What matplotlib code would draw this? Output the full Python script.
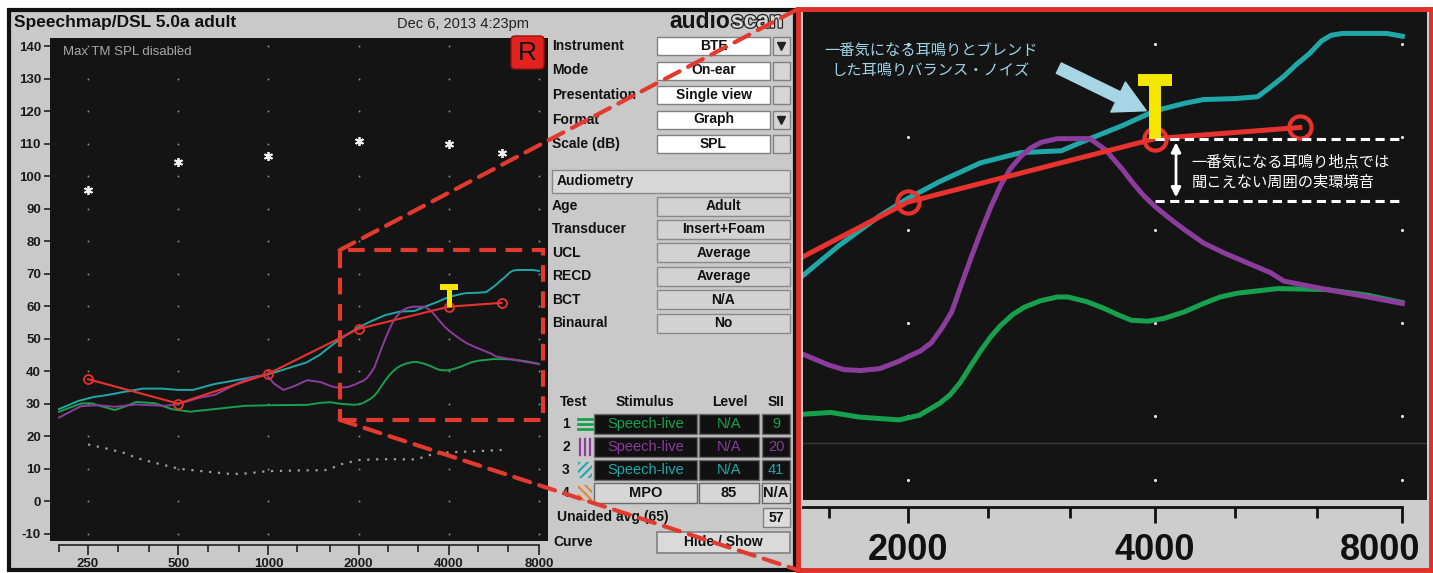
import numpy as np
import matplotlib
matplotlib.use("Agg")
import matplotlib.pyplot as plt
from matplotlib.patches import Rectangle, FancyBboxPatch, ConnectionPatch
from matplotlib.ticker import FixedLocator, FixedFormatter, NullFormatter
import matplotlib.patheffects as pe

plt.rcParams['font.family'] = ['Liberation Sans', 'DejaVu Sans']
plt.rcParams['hatch.linewidth'] = 1.5
JP = ['Noto Sans CJK JP', 'DejaVu Sans']

# ---------------- data ----------------
octave_freqs = [250, 500, 1000, 2000, 4000, 8000]
third_octave_freqs = [200, 250, 315, 400, 500, 630, 800, 1000, 1250, 1600,
                      2000, 2500, 3150, 4000, 5000, 6300, 8000]
zoom_label_freqs = [2000, 4000, 8000]
zoom_tick_freqs = [1600, 2000, 2500, 3150, 4000, 5000, 6300, 8000]
level_ticks = [-10, 0, 10, 20, 30, 40, 50, 60, 70, 80, 90, 100, 110, 120, 130, 140]
zoom_grid_levels = [30, 40, 50, 60, 70]
zoom_lower_grid_level = 23.2

green_freqs = [200, 237, 256, 281, 307, 330, 362, 418, 475, 547, 663, 833, 1042, 1350,
               1484, 1610, 1745, 1950, 2064, 2186, 2250, 2314, 2380, 2450, 2520, 2590,
               2680, 2770, 2900, 3040, 3130, 3300, 3460, 3600, 3740, 3920, 4100, 4340,
               4580, 4800, 5030, 5640, 6450, 7250, 8000]
green_levels = [27.5, 30.0, 30.1, 29.0, 28.0, 29.0, 30.5, 30.1, 28.3, 27.5, 28.3, 29.3,
                29.5, 29.6, 30.2, 30.4, 29.9, 29.6, 30.1, 31.4, 32.3, 33.6, 35.3, 37.0,
                38.5, 39.7, 40.9, 41.7, 42.4, 42.8, 42.8, 42.3, 41.6, 40.9, 40.3, 40.2,
                40.5, 41.2, 42.1, 42.8, 43.2, 43.7, 43.6, 43.0, 42.2]

purple_freqs = [200, 237, 269, 307, 360, 452, 500, 583, 663, 751, 834, 900, 988, 1042,
                1122, 1206, 1350, 1494, 1600, 1670, 1750, 1846, 1950, 2000, 2070, 2135,
                2200, 2260, 2330, 2390, 2450, 2520, 2590, 2660, 2744, 2820, 2904, 3040,
                3330, 3480, 3648, 3760, 3880, 4000, 4170, 4346, 4580, 4860, 5200, 5530,
                5740, 6300, 7260, 8000]
purple_levels = [25.7, 29.2, 29.5, 29.0, 29.7, 29.3, 29.8, 31.7, 32.7, 35.2, 37.3, 38.2,
                 38.8, 36.2, 34.2, 35.2, 37.2, 36.6, 35.5, 35.0, 34.9, 35.1, 35.9, 36.4,
                 37.0, 37.9, 39.5, 41.2, 44.5, 47.2, 49.7, 52.4, 54.7, 56.5, 57.9, 58.8,
                 59.4, 59.8, 59.8, 58.6, 56.5, 55.0, 53.6, 52.5, 51.2, 50.0, 48.6, 47.5,
                 46.4, 45.4, 44.5, 43.8, 42.8, 42.1]

cyan_freqs = [200, 232, 260, 289, 330, 381, 440, 500, 560, 660, 760, 867, 1000, 1138,
              1344, 1484, 1646, 1846, 2000, 2186, 2450, 2744, 3073, 3330, 3648, 3908,
              4000, 4346, 4580, 5000, 5330, 5500, 5740, 5950, 6160, 6380, 6550, 6760,
              7660, 8000]
cyan_levels = [28.3, 30.8, 32.0, 32.6, 33.6, 34.6, 34.6, 34.2, 34.2, 36.0, 37.0, 38.0,
               39.0, 40.6, 42.7, 45.0, 48.3, 51.5, 53.4, 55.2, 57.2, 58.3, 58.5, 59.8,
               61.2, 62.4, 62.8, 63.6, 64.0, 64.1, 64.3, 65.2, 66.5, 67.8, 68.9, 70.3,
               70.9, 71.1, 71.1, 70.8]

target_freqs = [250, 500, 1000, 2000, 4000, 6000]
target_levels = [37.5, 30.0, 39.2, 53.0, 59.8, 61.0]

mpo_freqs = [250, 500, 1000, 2000, 4000, 6000]
mpo_levels = [95.7, 104.2, 106.2, 110.8, 109.8, 107.0]

thresh_freqs = [250, 284, 330, 367, 429, 500, 583, 752, 852, 996, 1250, 1546, 1680,
                1760, 2000, 2390, 3101, 3529, 4000, 4585, 6000]
thresh_levels = [17.4, 16.3, 14.8, 13.1, 11.5, 10.0, 9.3, 8.3, 8.5, 9.2, 9.4, 9.5, 10.6,
                 11.4, 12.6, 12.9, 12.8, 14.4, 15.0, 15.2, 15.7]

tinnitus_freq = 4000
tinnitus_bottom = 59.8
tinnitus_top = 66.8
ambient_level = 53.1
zoom_box_freqs = [1728, 8250]
zoom_box_levels = [25.0, 77.2]

setup_labels = ["Instrument", "Mode", "Presentation", "Format", "Scale (dB)"]
setup_values = ["BTE", "On-ear", "Single view", "Graph", "SPL"]
setup_dropdown = [True, False, False, True, False]
aud_labels = ["Age", "Transducer", "UCL", "RECD", "BCT", "Binaural"]
aud_values = ["Adult", "Insert+Foam", "Average", "Average", "N/A", "No"]
test_ids = ["1", "2", "3", "4"]
test_stimulus = ["Speech-live", "Speech-live", "Speech-live", "MPO"]
test_level = ["N/A", "N/A", "N/A", "85"]
test_sii = ["9", "20", "41", "N/A"]

GREEN, PURPLE, CYAN, RED = '#17a04e', '#8c3c9c', '#20a8a8', '#e8322e'
YELLOW, ORANGE = '#f5e600', '#e0883a'
PANEL, BLACK = '#c9c9c9', '#141414'
test_colors = [GREEN, PURPLE, CYAN, None]

# ---------------- figure ----------------
W, H = 1433, 573
fig = plt.figure(figsize=(W / 100, H / 100), dpi=100)
fig.patch.set_facecolor('white')


def frac(x0, y0, x1, y1):
    return [x0 / W, 1 - y1 / H, (x1 - x0) / W, (y1 - y0) / H]


bg = fig.add_axes([0, 0, 1, 1], zorder=0)
bg.set_xlim(0, W); bg.set_ylim(H, 0); bg.axis('off')

# left instrument panel
bg.add_patch(Rectangle((9.5, 9.5), 786, 560, fc=PANEL, ec='#111111', lw=3))
bg.text(14, 22, "Speechmap/DSL 5.0a adult", ha='left', va='center', fontsize=12.5,
        fontweight='bold', color='#111')
bg.text(397, 24, "Dec 6, 2013 4:23pm", ha='left', va='center', fontsize=10.5, color='#222')
bg.text(730, 21, "audio", ha='right', va='center', fontsize=16.5, fontweight='bold', color='#151515')
bg.text(731, 21, "scan", ha='left', va='center', fontsize=16.5, fontweight='bold', color='#d8d8d8',
        path_effects=[pe.withStroke(linewidth=1.8, foreground='#222')])

# setup rows
for i, (lab, val, dd) in enumerate(zip(setup_labels, setup_values, setup_dropdown)):
    yc = 46 + i * 24.5
    bg.text(552, yc, lab, ha='left', va='center', fontsize=10, fontweight='bold', color='#111')
    bg.add_patch(Rectangle((657, yc - 9), 113, 18, fc='white', ec='#808080', lw=1))
    bg.text(713.5, yc, val, ha='center', va='center', fontsize=10, fontweight='bold', color='#111')
    bg.add_patch(Rectangle((773, yc - 9), 17, 18, fc='#d6d6d6', ec='#808080', lw=1))
    if dd:
        bg.plot([781.5], [yc], marker='v', color='#222', ms=6, ls='none')

bg.add_patch(Rectangle((552, 170), 238, 23, fc='#d8d8d8', ec='#8a8a8a', lw=1))
bg.text(557, 181.5, "Audiometry", ha='left', va='center', fontsize=10, fontweight='bold', color='#111')

for i, (lab, val) in enumerate(zip(aud_labels, aud_values)):
    yc = 206 + i * 23.4
    bg.text(552, yc, lab, ha='left', va='center', fontsize=10, fontweight='bold', color='#111')
    bg.add_patch(Rectangle((657, yc - 9.5), 133, 19, fc='#d2d2d2', ec='#8a8a8a', lw=1))
    bg.text(723.5, yc, val, ha='center', va='center', fontsize=10, fontweight='bold', color='#111')

# test table
for txt, xc in zip(["Test", "Stimulus", "Level", "SII"], [574, 645, 730, 776]):
    bg.text(xc, 402, txt, ha='center', va='center', fontsize=10, fontweight='bold', color='#111')
for i in range(4):
    yc = 424 + i * 23
    col = test_colors[i]
    bg.text(566, yc, test_ids[i], ha='center', va='center', fontsize=10, fontweight='bold', color='#111')
    if i == 0:
        for dy in (-5, 0, 5):
            bg.plot([578, 592], [yc + dy, yc + dy], color=GREEN, lw=2)
    elif i == 1:
        for dx in (580, 585, 590):
            bg.plot([dx, dx], [yc - 8, yc + 8], color=PURPLE, lw=1.6)
    elif i == 2:
        bg.add_patch(Rectangle((578, yc - 8), 14, 16, fc='none', ec=CYAN, hatch='////', lw=0))
    else:
        bg.add_patch(Rectangle((578, yc - 8), 14, 16, fc='none', ec=ORANGE, hatch='\\\\\\\\', lw=0))
    fc = '#111111' if col else '#d6d6d6'
    tc = col if col else '#111'
    for (x0, w), txt in zip([(594, 103), (699, 60), (762, 28)],
                            [test_stimulus[i], test_level[i], test_sii[i]]):
        bg.add_patch(Rectangle((x0, yc - 10), w, 20, fc=fc, ec='#6a6a6a', lw=1))
        bg.text(x0 + w / 2, yc, txt, ha='center', va='center', fontsize=10.5, color=tc,
                fontweight='normal' if col else 'bold')

bg.text(557, 517, "Unaided avg (65)", ha='left', va='center', fontsize=10, fontweight='bold', color='#111')
bg.add_patch(Rectangle((763, 508), 27, 19, fc='#dcdcdc', ec='#808080', lw=1))
bg.text(776.5, 517.5, "57", ha='center', va='center', fontsize=10, fontweight='bold', color='#111')
bg.text(553, 542, "Curve", ha='left', va='center', fontsize=10, fontweight='bold', color='#111')
bg.add_patch(Rectangle((657, 532), 133, 21, fc='#dadada', ec='#808080', lw=1.2))
bg.text(723.5, 542.5, "Hide / Show", ha='center', va='center', fontsize=10, fontweight='bold', color='#111')

# ---------------- left graph ----------------
axL = fig.add_axes(frac(50, 38, 548, 541), zorder=2)
axL.set_facecolor(BLACK)
axL.set_xscale('log')
axL.set_xlim(186.6, 8574)
axL.set_ylim(-12.3, 142.5)
for s in ['top', 'right', 'left']:
    axL.spines[s].set_visible(False)
axL.spines['bottom'].set_position(('outward', 3))
axL.spines['bottom'].set_bounds(200, 8000)
axL.spines['bottom'].set_color('#222')
axL.spines['bottom'].set_linewidth(1.2)
axL.xaxis.set_major_locator(FixedLocator(octave_freqs))
axL.xaxis.set_major_formatter(FixedFormatter([str(f) for f in octave_freqs]))
axL.xaxis.set_minor_locator(FixedLocator(third_octave_freqs))
axL.xaxis.set_minor_formatter(NullFormatter())
axL.tick_params(axis='x', which='major', length=7.5, width=1.2, color='#222', labelsize=9.5,
                pad=2, labelcolor='#1a1a1a')
axL.tick_params(axis='x', which='minor', length=5, width=1.2, color='#222')
axL.set_yticks(level_ticks)
axL.set_yticklabels([str(v) for v in level_ticks])
axL.tick_params(axis='y', length=4.5, width=1.2, color='#222', labelsize=9.5, pad=2,
                labelcolor='#1a1a1a')
for lbl in axL.get_xticklabels() + axL.get_yticklabels():
    lbl.set_fontweight('bold')

gx, gy = np.meshgrid(octave_freqs, level_ticks)
axL.scatter(gx.ravel(), gy.ravel(), s=2, color='#8a8a8a', lw=0, zorder=1)

axL.plot(thresh_freqs, thresh_levels, color='#a0a0a0', lw=1.6, ls=(0, (1, 3)), zorder=2)
axL.plot(green_freqs, green_levels, color=GREEN, lw=1.4, zorder=3)
axL.plot(cyan_freqs, cyan_levels, color=CYAN, lw=1.4, zorder=3)
axL.plot(purple_freqs, purple_levels, color=PURPLE, lw=1.4, zorder=3)
axL.plot(target_freqs, target_levels, color=RED, lw=1.5, marker='o', ms=6.5, mfc='none',
         mec=RED, mew=1.3, zorder=4)
axL.plot(mpo_freqs, mpo_levels, ls='none', marker=(6, 2, 0), ms=6.5, mew=1.3,
         color='#f0f0f0', zorder=4)
axL.plot([tinnitus_freq, tinnitus_freq], [tinnitus_bottom, tinnitus_top - 1.5], color=YELLOW,
         lw=3.6, solid_capstyle='butt', zorder=5)
axL.plot([tinnitus_freq], [tinnitus_top - 0.9], marker='_', ms=13.5, mew=4.3, color=YELLOW, zorder=5)
axL.text(0.026, 0.985, "Max TM SPL disabled", transform=axL.transAxes, ha='left', va='top',
         fontsize=9.5, color='#a8a8a8')
axL.add_patch(Rectangle((zoom_box_freqs[0], zoom_box_levels[0]),
                        zoom_box_freqs[1] - zoom_box_freqs[0],
                        zoom_box_levels[1] - zoom_box_levels[0],
                        fc='none', ec='#e33a30', lw=3, ls=(0, (4, 2.3)), zorder=6, clip_on=False))

# ---------------- right zoomed panel ----------------
axF = fig.add_axes(frac(798, 9, 1431, 570), zorder=1)
axF.set_facecolor('#cdcdcd')
axF.set_xticks([]); axF.set_yticks([])
for s in axF.spines.values():
    s.set_color('#e03028'); s.set_linewidth(3.5)

axR = fig.add_axes(frac(803, 12, 1427, 500), zorder=2)
axR.set_facecolor(BLACK)
axR.set_xscale('log')
axR.set_xlim(1489, 8574)
axR.set_ylim(21.0, 73.4)
for s in ['top', 'right', 'left']:
    axR.spines[s].set_visible(False)
axR.spines['bottom'].set_position(('outward', 5))
axR.spines['bottom'].set_bounds(1489, 8000)
axR.spines['bottom'].set_color('#111')
axR.spines['bottom'].set_linewidth(2)
axR.xaxis.set_major_locator(FixedLocator(zoom_label_freqs))
axR.xaxis.set_major_formatter(NullFormatter())
axR.xaxis.set_minor_locator(FixedLocator(zoom_tick_freqs))
axR.xaxis.set_minor_formatter(NullFormatter())
axR.tick_params(axis='x', which='major', length=11.5, width=2, color='#111')
axR.tick_params(axis='x', which='minor', length=8, width=2, color='#111')
axR.set_yticks([])
for f in zoom_label_freqs:
    dx = -16 if f == zoom_label_freqs[-1] else 0
    axR.annotate(str(f), xy=(f, 0), xycoords=('data', 'axes fraction'), xytext=(dx, -36),
                 textcoords='offset points', ha='center', va='center', fontsize=26,
                 fontweight='bold', color='#111', annotation_clip=False)

zx, zy = np.meshgrid(zoom_label_freqs, zoom_grid_levels + [zoom_lower_grid_level])
axR.scatter(zx.ravel(), zy.ravel(), s=5, color='#e8e8e8', lw=0, zorder=1)
axR.axhline(27.1, color='#3a3a3a', lw=1, zorder=1)

axR.plot(green_freqs, green_levels, color=GREEN, lw=3.6, zorder=3)
axR.plot(cyan_freqs, cyan_levels, color=CYAN, lw=3.6, zorder=3)
axR.plot(purple_freqs, purple_levels, color=PURPLE, lw=3.6, zorder=3)
axR.plot(target_freqs, target_levels, color=RED, lw=3.6, marker='o', ms=16, mfc='none',
         mec=RED, mew=3, zorder=4)
axR.plot([tinnitus_freq, tinnitus_freq], [tinnitus_bottom, tinnitus_top - 1.0], color=YELLOW,
         lw=8.6, solid_capstyle='butt', zorder=5)
axR.plot([tinnitus_freq], [tinnitus_top - 0.65], marker='_', ms=25, mew=8.6, color=YELLOW, zorder=5)

axR.hlines([tinnitus_bottom, ambient_level], tinnitus_freq, 8000, colors='white', lw=2.2,
           linestyles=(0, (3, 1.8)), zorder=6)
axR.annotate('', xy=(4240, tinnitus_bottom - 0.4), xytext=(4240, ambient_level + 0.4),
             arrowprops=dict(arrowstyle='<|-|>', color='white', lw=2, mutation_scale=14,
                             shrinkA=0, shrinkB=0), zorder=6)
axR.text(0.622, 0.672, "一番気になる耳鳴り地点では\n聞こえない周囲の実環境音", transform=axR.transAxes,
         ha='left', va='center', fontsize=11, color='white', family=JP, linespacing=1.25, zorder=7)
axR.text(0.205, 0.9, "一番気になる耳鳴りとブレンド\nした耳鳴りバランス・ノイズ", transform=axR.transAxes,
         ha='center', va='center', fontsize=11, color='#9fd3e6', family=JP, linespacing=1.25, zorder=7)
axR.annotate('', xy=(3900, 62.8), xycoords='data', xytext=(0.41, 0.885), textcoords='axes fraction',
             arrowprops=dict(arrowstyle='simple,head_length=1.5,head_width=1.6,tail_width=0.55',
                             color='#a6d6e6', mutation_scale=15, shrinkA=0, shrinkB=0), zorder=7)

# ---------------- foreground ----------------
fg = fig.add_axes([0, 0, 1, 1], zorder=5)
fg.set_xlim(0, W); fg.set_ylim(H, 0); fg.axis('off'); fg.patch.set_alpha(0)
fg.add_patch(FancyBboxPatch((511, 36), 33, 33, boxstyle='round,pad=0,rounding_size=4',
                            fc='#e2221e', ec='#9a1010', lw=1))
fg.text(527.5, 53, "R", ha='center', va='center', fontsize=19, color='#111')

for yA, yB in [(zoom_box_levels[1], 1), (zoom_box_levels[0], 0)]:
    con = ConnectionPatch(xyA=(zoom_box_freqs[0], yA), coordsA=axL.transData,
                          xyB=(0, yB), coordsB=axF.transAxes,
                          color='#e33a30', lw=3, ls=(0, (4, 2.3)), zorder=10)
    fig.add_artist(con)

fig.savefig('out.png', dpi=100)
